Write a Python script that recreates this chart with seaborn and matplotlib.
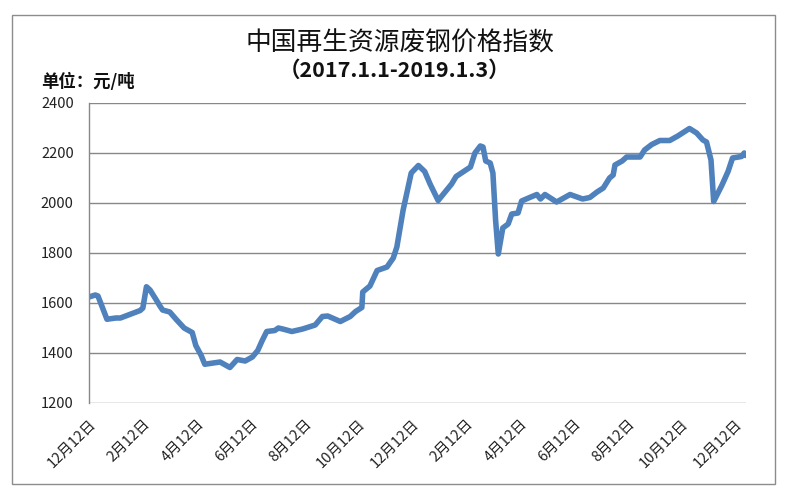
import pandas as pd
import matplotlib.pyplot as plt
import seaborn as sns
from matplotlib.patches import Rectangle

# days since 2017-01-01 and index value (元/吨)
days = [0, 7, 10, 20, 30, 35, 57, 60, 64, 68, 75, 79, 82, 90, 97, 106, 115, 119,
        125, 129, 146, 157, 165, 174, 182, 188, 193, 198, 207, 211, 218, 226, 238,
        252, 260, 266, 280, 291, 297, 304, 305, 313, 321, 332, 339, 343, 350, 359,
        367, 374, 380, 389, 404, 409, 425, 430, 436, 439, 442, 447, 450, 453, 456,
        461, 467, 471, 478, 482, 491, 499, 503, 508, 521, 536, 550, 558, 566, 573,
        580, 584, 586, 594, 599, 614, 619, 627, 636, 647, 656, 669, 677, 684, 688,
        693, 696, 705, 712, 717, 727, 730, 732]
price = [1624, 1632, 1628, 1535, 1540, 1540, 1570, 1580, 1665, 1652, 1612, 1588,
         1572, 1564, 1535, 1500, 1482, 1430, 1390, 1355, 1364, 1342, 1374, 1368,
         1384, 1410, 1450, 1486, 1490, 1500, 1494, 1486, 1496, 1512, 1546, 1548,
         1526, 1546, 1566, 1582, 1644, 1668, 1730, 1744, 1780, 1824, 1972, 2120,
         2150, 2126, 2076, 2010, 2076, 2106, 2144, 2200, 2228, 2224, 2168, 2160,
         2120, 1932, 1796, 1900, 1916, 1956, 1960, 2008, 2022, 2034, 2016, 2034,
         2004, 2034, 2016, 2022, 2044, 2060, 2100, 2112, 2152, 2168, 2184, 2184,
         2212, 2234, 2250, 2250, 2268, 2298, 2280, 2252, 2244, 2172, 2006, 2070,
         2126, 2180, 2186, 2200, 2190]

tick_days = [0, 60, 120, 180, 240, 300, 360, 420, 480, 540, 600, 660, 720]
tick_labels = ['12月12日', '2月12日', '4月12日', '6月12日', '8月12日', '10月12日',
               '12月12日', '2月12日', '4月12日', '6月12日', '8月12日', '10月12日',
               '12月12日']
y_ticks = [1200, 1400, 1600, 1800, 2000, 2200, 2400]

df = pd.DataFrame({'day': days, 'price': price})

sns.set_style("white")
plt.rcParams['font.family'] = ['Noto Sans CJK SC', 'DejaVu Sans']

fig = plt.figure(figsize=(8, 5), dpi=100)
ax = fig.add_axes([89 / 800, 1 - 403 / 500, (746 - 89) / 800, 300 / 500])

sns.lineplot(data=df, x='day', y='price', ax=ax, color='#4f81bd', linewidth=4,
             solid_joinstyle='round', solid_capstyle='round')

ax.set_xlim(0, 732)
ax.set_ylim(1200, 2400)
ax.set_yticks(y_ticks)
ax.set_yticklabels([str(v) for v in y_ticks], fontsize=10.5, color='#222222')
ax.set_xticks(tick_days)
ax.set_xticklabels(tick_labels, rotation=45, ha='right', rotation_mode='anchor',
                   fontsize=10.5, color='#222222')
ax.tick_params(axis='x', length=0, pad=10)
ax.tick_params(axis='y', length=0, pad=11)
ax.set_xlabel('')
ax.set_ylabel('')

ax.grid(axis='y', color='#888888', linewidth=1)
ax.grid(axis='x', visible=False)
for side in ['top', 'right', 'bottom']:
    ax.spines[side].set_visible(False)
ax.spines['left'].set_color('#888888')
ax.spines['left'].set_linewidth(1)

fig.text(0.5, 1 - 44 / 500, '中国再生资源废钢价格指数', ha='center', va='center',
         fontsize=18.5, fontweight='normal', color='#111111')
fig.text(395 / 800, 1 - 70 / 500, '（2017.1.1-2019.1.3）', ha='center', va='center',
         fontsize=15.5, fontweight='bold', color='#111111')
fig.text(41 / 800, 1 - 82 / 500, '单位：元/吨', ha='left', va='center',
         fontsize=12.5, fontweight='bold', color='#111111')

fig.add_artist(Rectangle((12 / 800, 1 - 484 / 500), (775 - 12) / 800, (484 - 15) / 500,
                         transform=fig.transFigure, fill=False, edgecolor='#8c8c8c',
                         linewidth=1))

plt.savefig('out.png', dpi=100)
plt.close()
